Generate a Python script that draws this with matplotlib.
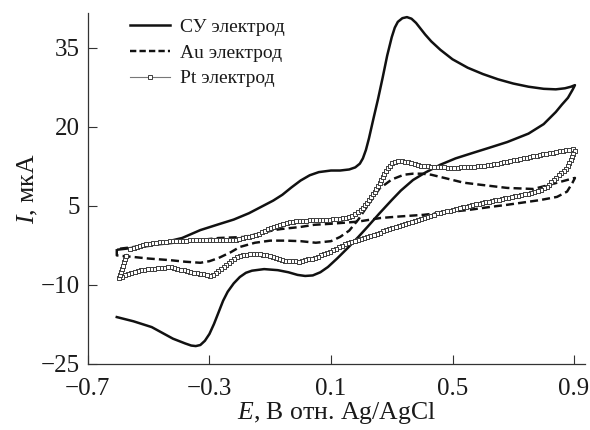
import numpy as np
import matplotlib
matplotlib.use("Agg")
import matplotlib.pyplot as plt
from matplotlib import patheffects
from matplotlib.lines import Line2D
from matplotlib.path import Path
from matplotlib.transforms import Affine2D, IdentityTransform

plt.rcParams['font.family'] = ['Liberation Serif', 'DejaVu Serif']
plt.rcParams['mathtext.fontset'] = 'custom'
plt.rcParams['mathtext.rm'] = 'Liberation Serif'
plt.rcParams['mathtext.it'] = 'Liberation Serif:italic'

# CV curves, potential E (V vs Ag/AgCl) and current I (uA), in sweep order
E_gc = [-0.60, -0.50, -0.39, -0.33, -0.27, -0.22, -0.17, -0.13, -0.09, -0.06, -0.03, 0.00,
        0.03, 0.06, 0.10, 0.13, 0.16, 0.18, 0.195, 0.205, 0.215, 0.225, 0.24, 0.255, 0.27,
        0.285, 0.30, 0.31, 0.32, 0.335, 0.35, 0.365, 0.38, 0.395, 0.41, 0.43, 0.46, 0.50,
        0.55, 0.60, 0.65, 0.70, 0.75, 0.80, 0.84, 0.87, 0.89, 0.903,
        0.895, 0.88, 0.86, 0.84, 0.80, 0.75, 0.68, 0.62, 0.57, 0.51, 0.46, 0.41, 0.37,
        0.33, 0.30, 0.26, 0.22, 0.19, 0.155, 0.12, 0.09, 0.065, 0.04, 0.015, -0.01,
        -0.04, -0.075, -0.12, -0.16, -0.18, -0.20, -0.22, -0.24, -0.255, -0.27, -0.285,
        -0.30, -0.315, -0.33, -0.345, -0.36, -0.38, -0.42, -0.49, -0.55, -0.605]
I_gc = [-3.3, -2.6, -1.1, 0.4, 1.5, 2.4, 3.6, 4.8, 6.0, 7.1, 8.5, 9.8,
        10.8, 11.4, 11.7, 11.7, 11.9, 12.3, 13.0, 14.0, 15.6, 17.8, 21.6, 25.3, 29.3,
        33.5, 37.0, 38.8, 39.9, 40.6, 40.8, 40.5, 39.7, 38.6, 37.5, 36.2, 34.6, 32.8,
        31.2, 30.0, 29.0, 28.2, 27.6, 27.2, 27.1, 27.3, 27.6, 27.9,
        27.0, 25.5, 24.2, 22.8, 20.5, 18.7, 17.1, 16.0, 15.1, 14.0, 12.8, 11.3, 9.9,
        7.9, 6.1, 3.6, 1.0, -0.9, -3.0, -5.0, -6.6, -7.6, -8.2, -8.3, -8.1,
        -7.6, -7.2, -7.0, -7.3, -7.7, -8.5, -9.7, -11.3, -13.0, -15.2, -17.4,
        -19.3, -20.6, -21.4, -21.6, -21.5, -21.1, -20.2, -18.0, -16.9, -16.1]

E_au = [-0.605, -0.605, -0.55, -0.50, -0.43, -0.38, -0.33, -0.30, -0.27, -0.23, -0.20,
        -0.15, -0.10, -0.05, 0.00, 0.05, 0.10, 0.13, 0.16, 0.19, 0.22, 0.26, 0.30, 0.34,
        0.37, 0.40, 0.43, 0.48, 0.536, 0.592, 0.68, 0.766, 0.82, 0.877, 0.903,
        0.895, 0.877, 0.844, 0.789, 0.68, 0.625, 0.55, 0.48, 0.405, 0.33, 0.264, 0.188,
        0.10, 0.044, 0.00, -0.064, -0.087, -0.185, -0.27, -0.35, -0.45, -0.52, -0.605]
I_au = [-3.2, -4.4, -4.7, -5.0, -5.3, -5.6, -5.8, -5.5, -4.9, -3.8, -2.8,
        -2.0, -1.6, -1.6, -1.7, -2.0, -1.7, -0.9, 0.3, 2.4, 5.0, 8.3, 10.0, 10.9,
        11.1, 11.1, 10.9, 10.2, 9.4, 9.0, 8.4, 8.2, 9.0, 9.9, 10.3,
        9.4, 7.7, 6.7, 6.1, 5.2, 4.8, 4.2, 3.8, 3.3, 3.0, 2.7, 2.0,
        1.6, 1.4, 1.0, 0.6, 0.4, -0.9, -1.1, -1.6, -2.2, -2.6, -3.2]

E_pt = [-0.56, -0.50, -0.45, -0.40, -0.30, -0.22, -0.15, -0.09, -0.04, 0.00, 0.044, 0.10,
        0.156, 0.188, 0.205, 0.221, 0.238, 0.254, 0.27, 0.287, 0.30, 0.313, 0.33, 0.352,
        0.39, 0.428, 0.50, 0.569, 0.63, 0.68, 0.74, 0.789, 0.85, 0.897, 0.903,
        0.895, 0.88, 0.86, 0.831, 0.811, 0.789, 0.74, 0.68, 0.62, 0.569, 0.50, 0.45, 0.372,
        0.30, 0.264, 0.20, 0.156, 0.10, 0.044, -0.008, -0.064, -0.10, -0.14, -0.195, -0.225,
        -0.25, -0.293, -0.35, -0.43, -0.523, -0.56, -0.598, -0.585, -0.572]
I_pt = [-3.2, -2.2, -1.8, -1.6, -1.5, -1.5, -0.6, 1.0, 1.9, 2.1, 2.3, 2.4,
        2.7, 3.7, 4.6, 5.8, 7.2, 8.6, 10.5, 12.2, 13.0, 13.4, 13.5, 13.3,
        12.7, 12.4, 12.2, 12.4, 12.8, 13.4, 14.1, 14.7, 15.3, 15.8, 15.4,
        14.7, 12.4, 11.3, 9.9, 8.6, 8.0, 7.2, 6.5, 5.8, 5.2, 4.2, 3.6, 2.0,
        0.8, 0.0, -1.3, -2.0, -3.7, -4.9, -5.6, -5.3, -4.5, -4.1, -4.3, -5.3,
        -6.6, -8.3, -7.7, -6.6, -7.2, -7.7, -8.7, -6.4, -4.2]

labels = ['СУ электрод', 'Au электрод', 'Pt электрод']
xticks = [-0.7, -0.3, 0.1, 0.5, 0.9]
yticks = [-25, -10, 5, 20, 35]


class SquareTrail(patheffects.AbstractPathEffect):
    """Draws the line, then open squares at even steps along it."""

    def __init__(self, step=2.4, size=3.0, edge='#3c3c3c', lw=0.7):
        super().__init__()
        self._step = step
        self._size = size
        self._edge = edge
        self._lw = lw

    def draw_path(self, renderer, gc, tpath, affine, rgbFace=None):
        renderer.draw_path(gc, tpath, affine, rgbFace)
        xy = affine.transform(tpath.vertices)
        d = np.r_[0, np.cumsum(np.hypot(*np.diff(xy, axis=0).T))]
        s = np.arange(0, d[-1] + 1e-9, renderer.points_to_pixels(self._step))
        pts = np.column_stack([np.interp(s, d, xy[:, 0]), np.interp(s, d, xy[:, 1])])
        side = renderer.points_to_pixels(self._size)
        mtrans = Affine2D().translate(-0.5, -0.5).scale(side)
        gc2 = renderer.new_gc()
        gc2.copy_properties(gc)
        gc2.set_foreground(self._edge)
        gc2.set_linewidth(self._lw)
        gc2.set_dashes(0, None)
        renderer.draw_markers(gc2, Path.unit_rectangle(), mtrans, Path(pts),
                              IdentityTransform(), (1, 1, 1))
        gc2.restore()


fig = plt.figure(figsize=(5.9, 4.3), dpi=100)
ax = fig.add_axes([0.149, 0.1535, 0.8425, 0.8165])

ax.plot(E_gc, I_gc, color='#111111', lw=1.8, solid_joinstyle='round')
au, = ax.plot(E_au, I_au, color='#111111', lw=1.75)
au.set_dashes((3.3, 1.7))
ax.plot(E_pt, I_pt, color='#777777', lw=0.8,
        path_effects=[SquareTrail()])

ax.set_xlim(-0.7, 0.936)
ax.set_ylim(-25, 41.6)
ax.set_xticks(xticks)
ax.set_yticks(yticks)
ax.set_xticklabels([f'{v:.1f}'.replace('-', '\u2212') for v in xticks])
ax.set_yticklabels([f'{v}'.replace('-', '\u2212') for v in yticks])

for side in ('top', 'right'):
    ax.spines[side].set_visible(False)
for side in ('left', 'bottom'):
    ax.spines[side].set_color('#333333')
    ax.spines[side].set_linewidth(0.9)
ax.tick_params(direction='in', length=6.5, width=0.8, color='#333333',
               labelsize=18, pad=6, labelcolor='#1a1a1a')
ax.tick_params(axis='x', pad=10)

ax.set_xlabel('$E$, В отн. Ag/AgCl', fontsize=18.5, color='#1a1a1a', labelpad=0)
ax.set_ylabel('$I$, мкА', fontsize=18.5, color='#1a1a1a', labelpad=0)

handles = [
    Line2D([], [], color='#111111', lw=1.8),
    Line2D([], [], color='#111111', lw=1.75, dashes=(2.6, 1.3)),
    Line2D([], [], color='#777777', lw=0.8, marker='s', ms=3.2,
           mfc='white', mec='#3c3c3c', mew=0.7),
]
ax.legend(handles, labels, loc='upper left', bbox_to_anchor=(0.085, 0.985),
          frameon=False, fontsize=14, handlelength=2.05, handletextpad=0.5,
          labelspacing=0.42, borderpad=0, borderaxespad=0, labelcolor='#1a1a1a')

fig.savefig('out.png', dpi=100)
